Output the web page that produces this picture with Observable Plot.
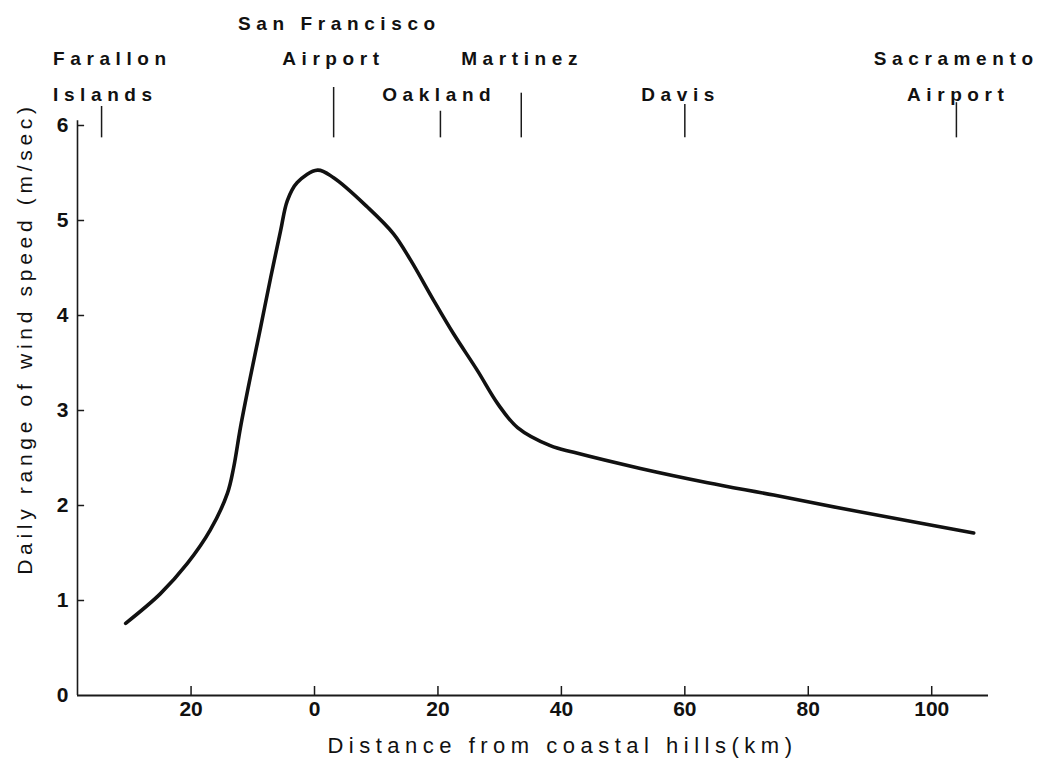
<!DOCTYPE html>
<html><head><meta charset="utf-8">
<script src="https://cdn.jsdelivr.net/npm/d3@7"></script>
<script src="https://cdn.jsdelivr.net/npm/@observablehq/plot@0.6"></script>
<style>
body{margin:0;background:#fff}
g[aria-description="stations"] text{letter-spacing:5.6px}
g[aria-description="xtitle"] text{letter-spacing:5.5px}
g[aria-description="ytitle"] text{letter-spacing:4.7px}
</style>
</head><body><div id="chart"></div>
<script>
// Curve
const distanceKm = [-30.6,-25.0,-20.6,-16.9,-14.1,-13.1,-12.0,-10.4,-8.75,-7.1,-5.5,-4.4,-2.8,0.5,3.1,8.6,12.8,15.6,19.3,22.5,26.4,29.7,32.9,38.2,42.0,52.8,63.7,74.4,85.3,96.1,106.8];
const windRange = [0.76,1.07,1.39,1.74,2.13,2.40,2.82,3.35,3.87,4.40,4.89,5.21,5.40,5.53,5.45,5.14,4.86,4.58,4.16,3.81,3.42,3.07,2.82,2.63,2.56,2.39,2.24,2.11,1.97,1.84,1.71];
// Stations
const stationNames = [["Farallon","Islands"],["San Francisco","Airport"],["Oakland"],["Martinez"],["Davis"],["Sacramento","Airport"]];
const stationKm = [-34.5,3.1,20.4,33.5,60,104];
// Axes
const xTicks = [-20,0,20,40,60,80,100];
const yTicks = [0,1,2,3,4,5,6];
const xTitle = "Distance from coastal hills(km)";
const yTitle = "Daily range of wind speed (m/sec)";

// ---- rendering ----
const xDomain = [-38.4, 109.2];
const curve = distanceKm.map((d,i)=>({km:d, v:windRange[i]}));

// style/placement of station labels (pixel offsets from the station tick at y = 6)
const levelDy = [-102, -67, -31];
const labelLevels = [[1,2],[0,1],[2],[1],[2],[1,2]];
const labelDx = [[8,1],[3,-3],[-4],[-2],[-7],[-3,-1]];
const tickTop = [6.2, 6.4, 6.15, 6.34, 6.22, 6.24];
const stationTicks = stationKm.map((k,i)=>({km:k, top:tickTop[i]}));

const tickFont = "'Liberation Sans',Arial,Helvetica,sans-serif";
const labelFont = "'Liberation Sans',Arial,Helvetica,sans-serif";

const labelMarks = [];
stationNames.forEach((lines,i)=>lines.forEach((t,j)=>{
  labelMarks.push(Plot.text([t], {x: () => stationKm[i], y: () => 6, text: d=>d,
    dx: labelDx[i][j] + 2.8, dy: levelDy[labelLevels[i][j]], ariaDescription: "stations",
    fontSize: 19, fontWeight: "bold", fontFamily: labelFont, fill: "#111", lineAnchor: "middle"}));
}));

const marks = [
  Plot.ruleX([xDomain[0]], {x: d=>d, y1: 0, y2: 6.05, stroke: "#1a1a1a", strokeWidth: 1.6}),
  Plot.ruleY([0], {y: d=>d, x1: xDomain[0], x2: xDomain[1], stroke: "#1a1a1a", strokeWidth: 2}),
  Plot.ruleX(xTicks, {x: d=>d, y1: 0, y2: 0.095, stroke: "#1a1a1a", strokeWidth: 1.5}),
  Plot.ruleY(yTicks.slice(1), {y: d=>d, x1: xDomain[0], x2: xDomain[0]+1.15, stroke: "#1a1a1a", strokeWidth: 1.5}),
  Plot.axisX(xTicks, {tickSize: 0, tickPadding: 6, tickFormat: d=>String(Math.abs(d)), fontSize: 21, fontWeight: "bold", fontFamily: tickFont, label: null, fill: "#111"}),
  Plot.axisY(yTicks, {tickSize: 0, tickPadding: 9, tickFormat: d=>String(d), fontSize: 21, fontWeight: "bold", fontFamily: tickFont, label: null, fill: "#111"}),
  Plot.ruleX(stationTicks, {x: "km", y1: 5.87, y2: "top", stroke: "#1a1a1a", strokeWidth: 1.5}),
  ...labelMarks,
  Plot.line(curve, {x: "km", y: "v", curve: "catmull-rom", stroke: "#111", strokeWidth: 3.6}),
  Plot.text([xTitle], {x: () => 2.1, y: () => 0, text: d=>d, dy: 50, textAnchor: "start", ariaDescription: "xtitle", fontSize: 22, fontFamily: labelFont, fill: "#111", lineAnchor: "middle"}),
  Plot.text([yTitle], {x: () => xDomain[0], y: () => 1.27, text: d=>d, dx: -52, rotate: -90, textAnchor: "start", ariaDescription: "ytitle", fontSize: 21, fontFamily: labelFont, fill: "#111", lineAnchor: "middle"})
];

const chart = Plot.plot({
  width: 1043, height: 758,
  marginLeft: 77, marginRight: 55, marginTop: 125, marginBottom: 63,
  x: {domain: xDomain},
  y: {domain: [0, 6]},
  style: {background: "#fff", overflow: "visible"},
  marks
});
document.getElementById("chart").append(chart);
</script>
</body></html>
